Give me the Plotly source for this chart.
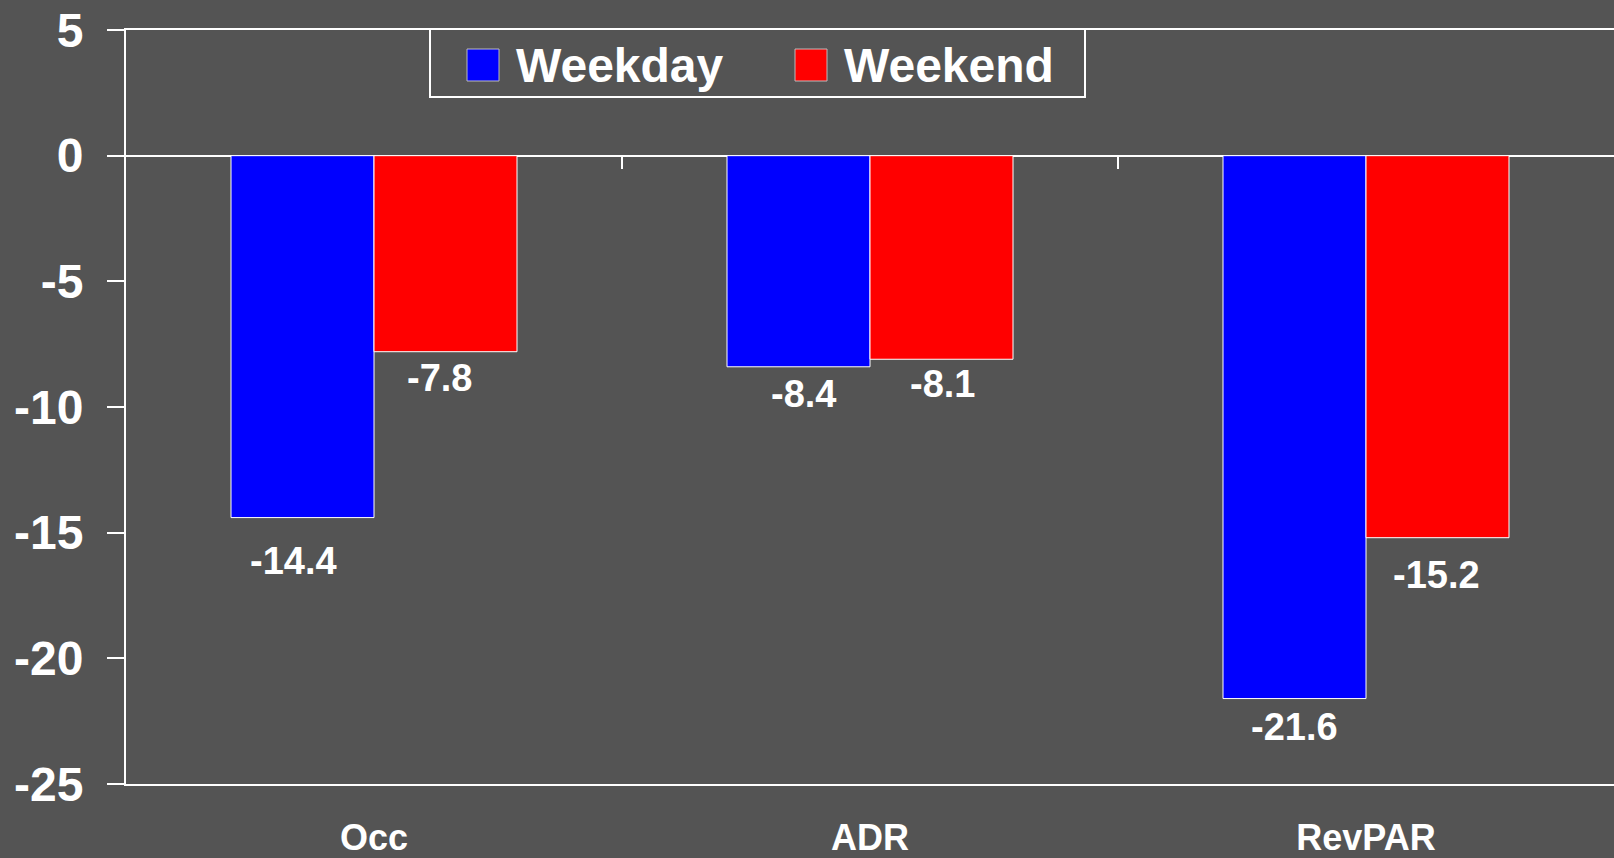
import plotly.graph_objects as go

# --- data ---------------------------------------------------------------
CATEGORIES = ["Occ", "ADR", "RevPAR"]
WEEKDAY = [-14.4, -8.4, -21.6]
WEEKEND = [-7.8, -8.1, -15.2]
SERIES_NAMES = ["Weekday", "Weekend"]
Y_TICK_VALUES = [5, 0, -5, -10, -15, -20, -25]
Y_TICK_LABELS = ["5", "0", "-5", "-10", "-15", "-20", "-25"]

# --- styling / layout constants -----------------------------------------
W, H = 1614, 858
ML, MR, MT, MB = 126, 0, 30, 74
PW, PH = W - ML - MR, H - MT - MB
BG = "#545454"
FONT = "Liberation Sans, Arial, Helvetica, sans-serif"
COLORS = ["#0000FF", "#FF0000"]
BARGAP = 0.4234
Y_RANGE = [-25, 5]

# per-label nudges (pixels): (dx, distance below bar end)
LABEL_NUDGE = {
    "Weekday": [(-9, 43), (5, 27), (0, 28)],
    "Weekend": [(-6, 26), (1, 25), (-1, 37)],
}


def px_x(p):
    return (p - ML) / PW


def px_y(p):
    return 1 - (p - MT) / PH


fig = go.Figure()
for name, vals, col in zip(SERIES_NAMES, [WEEKDAY, WEEKEND], COLORS):
    fig.add_trace(go.Bar(
        x=CATEGORIES, y=vals, name=name,
        marker=dict(color=col, line=dict(color="white", width=1)),
        showlegend=False,
    ))

# empty helper trace so the overlaid axis carrying the category dividers is drawn
fig.add_trace(go.Scatter(x=[], y=[], xaxis="x2", yaxis="y",
                         showlegend=False, hoverinfo="skip"))

# value labels below each bar
half = (1 - BARGAP) / 4
annotations = []
for s, (name, vals) in enumerate(zip(SERIES_NAMES, [WEEKDAY, WEEKEND])):
    for i, v in enumerate(vals):
        dx, dy = LABEL_NUDGE[name][i]
        annotations.append(dict(
            x=i + (-half if s == 0 else half), y=v, xref="x", yref="y",
            text=f"{v:.1f}", showarrow=False,
            xanchor="center", yanchor="middle",
            xshift=dx, yshift=-dy,
            font=dict(family=FONT, size=38, color="white", weight="bold"),
        ))

# legend box drawn by hand
shapes = [
    dict(type="rect", xref="paper", yref="paper",
         x0=px_x(430), x1=px_x(1085), y0=px_y(97), y1=px_y(29),
         line=dict(color="white", width=2), fillcolor=BG, layer="above"),
]
for name, col, sx, tx in zip(SERIES_NAMES, COLORS, [467, 795], [514, 842]):
    shapes.append(dict(type="rect", xref="paper", yref="paper",
                       x0=px_x(sx), x1=px_x(sx + 32), y0=px_y(81), y1=px_y(49),
                       line=dict(color="#BBBBBB", width=1), fillcolor=col,
                       layer="above"))
    annotations.append(dict(
        x=px_x(tx), y=px_y(66), xref="paper", yref="paper",
        text=name, showarrow=False, xanchor="left", yanchor="middle",
        font=dict(family=FONT, size=48, color="white", weight="bold"),
    ))

fig.update_layout(
    width=W, height=H,
    margin=dict(l=ML, r=MR, t=MT, b=MB, pad=0),
    paper_bgcolor=BG, plot_bgcolor=BG,
    barmode="group", bargap=BARGAP, bargroupgap=0,
    shapes=shapes, annotations=annotations,
    xaxis=dict(
        type="category", categoryorder="array", categoryarray=CATEGORIES,
        range=[-0.5, len(CATEGORIES) - 0.5], automargin=False,
        showline=True, linecolor="white", linewidth=2, mirror=True,
        showgrid=False, zeroline=False, ticks="",
        ticklabelstandoff=21,
        tickfont=dict(family=FONT, size=36, color="white", weight="bold"),
    ),
    xaxis2=dict(
        overlaying="x", anchor="free", automargin=False,
        position=(0 - Y_RANGE[0]) / (Y_RANGE[1] - Y_RANGE[0]),
        range=[-0.5, len(CATEGORIES) - 0.5],
        tickvals=[i + 0.5 for i in range(len(CATEGORIES) - 1)],
        ticks="outside", ticklen=12, tickwidth=2, tickcolor="white",
        showticklabels=False, showline=False, showgrid=False, zeroline=False,
    ),
    yaxis=dict(
        range=Y_RANGE, tickvals=Y_TICK_VALUES, ticktext=Y_TICK_LABELS,
        automargin=False,
        ticks="outside", ticklen=17, tickwidth=2, tickcolor="white",
        showline=True, linecolor="white", linewidth=2,
        showgrid=False, zeroline=True, zerolinecolor="white", zerolinewidth=2,
        ticklabelstandoff=14,
        tickfont=dict(family=FONT, size=48, color="white", weight="bold"),
    ),
)

fig.write_html("out.html")
